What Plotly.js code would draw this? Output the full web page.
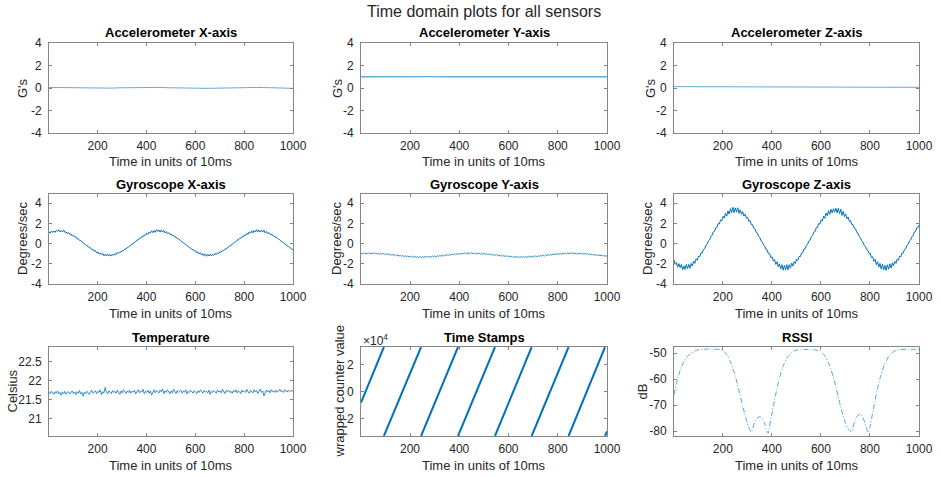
<!DOCTYPE html>
<html><head><meta charset="utf-8">
<script src="https://cdn.plot.ly/plotly-3.0.1.min.js"></script>
<style>html,body{margin:0;padding:0;background:#fff}#chart{width:941px;height:477px}</style>
</head><body><div id="chart"></div><script>
// ---------- DATA ----------
const xTickVals = [200, 400, 600, 800, 1000];
const xTickText = ['200', '400', '600', '800', '1000'];

// sample index for dense series (every 5th sample + last)
const t5 = [];
for (let i = 1; i <= 996; i += 5) t5.push(i);
t5.push(1000);

// accelerometer (read every 50 samples)
const accT = [1,50,100,150,200,250,300,350,400,450,500,550,600,650,700,750,800,850,900,950,1000];
const accX = [0.05,0.03,0.01,-0.01,-0.02,-0.01,0.02,0.05,0.06,0.05,0.02,-0.01,-0.03,-0.03,-0.01,0.02,0.05,0.05,0.03,0.0,-0.03];
const accY = [1.00,1.01,0.99,1.01,1.00,0.99,1.01,1.00,1.00,1.01,0.99,1.00,1.01,0.99,1.00,1.01,1.00,0.99,1.01,1.00,1.00];
const accZ = [0.12,0.12,0.11,0.11,0.10,0.10,0.10,0.09,0.09,0.09,0.09,0.08,0.08,0.08,0.08,0.07,0.07,0.07,0.07,0.06,0.06];

const gyroX = [1.13,1.04,1.25,1.09,1.24,1.10,1.32,1.22,1.36,1.15,
1.29,1.14,1.32,1.11,1.14,0.97,1.10,0.89,0.95,0.75,
0.82,0.65,0.66,0.46,0.47,0.31,0.30,0.15,0.11,-0.05,
-0.09,-0.24,-0.26,-0.42,-0.42,-0.60,-0.57,-0.76,-0.70,-0.92,
-0.84,-1.04,-0.92,-1.11,-0.97,-1.22,-1.06,-1.23,-1.04,-1.22,
-1.07,-1.24,-1.06,-1.18,-0.99,-1.08,-0.89,-0.97,-0.82,-0.86,
-0.69,-0.70,-0.55,-0.54,-0.40,-0.37,-0.23,-0.19,-0.04,0.00,
0.14,0.18,0.34,0.36,0.52,0.52,0.70,0.67,0.86,0.80,
1.02,0.91,1.14,1.03,1.26,1.07,1.27,1.11,1.38,1.19,
1.34,1.13,1.35,1.13,1.29,1.05,1.19,0.98,1.08,0.90,
0.95,0.78,0.80,0.64,0.65,0.49,0.47,0.32,0.28,0.14,
0.10,-0.04,-0.08,-0.23,-0.27,-0.41,-0.43,-0.59,-0.58,-0.75,
-0.71,-0.91,-0.83,-1.03,-0.91,-1.14,-1.00,-1.20,-1.03,-1.26,
-1.08,-1.23,-1.05,-1.23,-1.05,-1.17,-0.98,-1.08,-0.91,-0.97,
-0.81,-0.85,-0.70,-0.70,-0.56,-0.54,-0.40,-0.36,-0.23,-0.19,
-0.05,0.00,0.14,0.19,0.33,0.35,0.51,0.51,0.70,0.66,
0.86,0.79,1.01,0.90,1.15,1.02,1.25,1.06,1.29,1.14,
1.37,1.15,1.33,1.13,1.34,1.14,1.31,1.06,1.20,0.99,
1.09,0.90,0.95,0.79,0.79,0.66,0.64,0.50,0.46,0.33,
0.28,0.15,0.09,-0.04,-0.09,-0.22,-0.27,-0.40,-0.44,-0.57,-0.60];

const gyroY = [-0.95,-1.04,-0.93,-1.03,-0.94,-1.02,-0.91,-1.01,-0.93,-1.03,
-0.92,-1.02,-0.94,-1.04,-0.95,-1.05,-0.96,-1.06,-0.98,-1.08,
-1.00,-1.10,-1.02,-1.12,-1.05,-1.16,-1.08,-1.18,-1.10,-1.21,
-1.13,-1.24,-1.16,-1.26,-1.18,-1.29,-1.21,-1.31,-1.23,-1.33,
-1.24,-1.35,-1.26,-1.37,-1.27,-1.38,-1.28,-1.37,-1.29,-1.39,
-1.28,-1.37,-1.27,-1.36,-1.28,-1.36,-1.25,-1.35,-1.24,-1.33,
-1.22,-1.31,-1.20,-1.28,-1.17,-1.26,-1.15,-1.23,-1.12,-1.20,
-1.09,-1.18,-1.06,-1.15,-1.03,-1.12,-1.00,-1.10,-0.98,-1.08,
-0.96,-1.06,-0.94,-1.05,-0.92,-1.04,-0.91,-1.03,-0.90,-1.02,
-0.91,-1.03,-0.92,-1.04,-0.93,-1.03,-0.94,-1.05,-0.95,-1.06,
-0.97,-1.08,-0.99,-1.10,-1.02,-1.13,-1.04,-1.15,-1.07,-1.18,
-1.10,-1.21,-1.12,-1.24,-1.15,-1.26,-1.18,-1.29,-1.20,-1.31,
-1.22,-1.33,-1.24,-1.35,-1.26,-1.37,-1.27,-1.38,-1.28,-1.39,
-1.28,-1.38,-1.27,-1.37,-1.27,-1.36,-1.26,-1.35,-1.25,-1.34,
-1.23,-1.33,-1.21,-1.31,-1.19,-1.28,-1.16,-1.26,-1.14,-1.23,
-1.11,-1.20,-1.08,-1.18,-1.05,-1.15,-1.02,-1.12,-0.99,-1.10,
-0.97,-1.08,-0.95,-1.07,-0.93,-1.05,-0.92,-1.04,-0.92,-1.03,
-0.91,-1.02,-0.92,-1.02,-0.93,-1.03,-0.94,-1.03,-0.95,-1.04,
-0.96,-1.05,-0.98,-1.07,-1.00,-1.09,-1.03,-1.12,-1.06,-1.14,
-1.09,-1.16,-1.12,-1.19,-1.14,-1.22,-1.17,-1.24,-1.20,-1.27,-1.25];

const gyroZ = [-1.59,-2.07,-1.86,-2.33,-1.99,-2.39,-2.07,-2.61,-2.21,-2.56,
-2.08,-2.49,-2.06,-2.45,-1.97,-2.23,-1.74,-1.96,-1.51,-1.65,
-1.24,-1.30,-0.94,-0.94,-0.57,-0.52,-0.17,-0.08,0.25,0.35,
0.69,0.78,1.14,1.19,1.56,1.57,1.98,1.93,2.35,2.24,
2.70,2.51,2.99,2.71,3.22,2.92,3.45,3.06,3.58,3.06,
3.53,3.10,3.54,2.99,3.34,2.88,3.16,2.73,2.91,2.49,
2.61,2.21,2.27,1.88,1.88,1.51,1.47,1.11,1.05,0.70,
0.60,0.27,0.17,-0.16,-0.25,-0.60,-0.64,-1.01,-0.99,-1.39,
-1.31,-1.74,-1.58,-2.06,-1.80,-2.30,-2.00,-2.50,-2.09,-2.63,
-2.17,-2.60,-2.09,-2.60,-2.08,-2.43,-1.93,-2.22,-1.78,-1.97,
-1.54,-1.66,-1.26,-1.30,-0.94,-0.92,-0.56,-0.51,-0.17,-0.08,
0.26,0.36,0.69,0.78,1.13,1.18,1.57,1.58,1.99,1.92,
2.36,2.23,2.71,2.50,3.02,2.75,3.25,2.88,3.39,3.03,
3.44,3.10,3.49,3.04,3.48,2.95,3.40,2.78,3.19,2.67,
2.93,2.45,2.62,2.20,2.28,1.87,1.88,1.52,1.47,1.11,
1.05,0.70,0.59,0.27,0.16,-0.16,-0.26,-0.59,-0.64,-1.00,
-0.98,-1.39,-1.30,-1.75,-1.57,-2.08,-1.79,-2.33,-1.97,-2.52,
-2.06,-2.60,-2.16,-2.66,-2.10,-2.54,-2.01,-2.42,-1.91,-2.21,
-1.76,-1.97,-1.54,-1.65,-1.25,-1.30,-0.94,-0.93,-0.57,-0.51,
-0.17,-0.07,0.26,0.35,0.69,0.78,1.14,1.19,1.56,1.58,1.85];

const temperature = [21.70,21.66,21.72,21.68,21.64,21.71,21.67,21.73,21.65,21.69,
21.62,21.70,21.66,21.72,21.64,21.69,21.71,21.65,21.68,21.73,
21.66,21.70,21.63,21.71,21.67,21.74,21.65,21.69,21.59,21.70,
21.66,21.72,21.68,21.64,21.71,21.75,21.67,21.70,21.73,21.66,
21.72,21.69,21.76,21.63,21.71,21.68,21.82,21.70,21.65,21.73,
21.70,21.66,21.74,21.69,21.72,21.67,21.75,21.70,21.64,21.73,
21.68,21.76,21.71,21.66,21.73,21.69,21.75,21.67,21.72,21.70,
21.74,21.65,21.71,21.76,21.68,21.73,21.70,21.77,21.66,21.72,
21.69,21.75,21.67,21.73,21.62,21.71,21.76,21.68,21.74,21.70,
21.67,21.75,21.71,21.78,21.66,21.73,21.69,21.76,21.70,21.65,
21.73,21.68,21.77,21.71,21.66,21.74,21.69,21.72,21.75,21.67,
21.73,21.70,21.76,21.65,21.72,21.69,21.75,21.71,21.67,21.74,
21.70,21.66,21.73,21.69,21.76,21.71,21.67,21.74,21.70,21.72,
21.68,21.75,21.64,21.72,21.69,21.74,21.71,21.67,21.75,21.70,
21.73,21.68,21.77,21.70,21.66,21.74,21.71,21.75,21.69,21.72,
21.67,21.74,21.70,21.76,21.68,21.73,21.71,21.66,21.75,21.70,
21.73,21.69,21.77,21.71,21.67,21.74,21.72,21.68,21.76,21.70,
21.74,21.66,21.72,21.78,21.69,21.73,21.60,21.71,21.75,21.70,
21.74,21.68,21.76,21.71,21.73,21.69,21.75,21.70,21.72,21.77,
21.71,21.74,21.69,21.76,21.72,21.70,21.75,21.71,21.73,21.74,21.72];

// wrapped counter: segment end points (null = wrap)
const tsX = [1,94,null,94,245,null,245,395,null,395,545,null,545,694,null,694,844,null,844,992,null,992,1000];
const tsY = [-8200,32767,null,-32768,32767,null,-32768,32767,null,-32768,32767,null,-32768,32767,null,-32768,32767,null,-32768,32767,null,-32768,-29300];

const rssiX = [1,10,20,30,40,50,60,70,80,90,100,120,140,160,180,190,200,210,220,230,240,250,260,270,280,290,300,310,315,320,330,340,350,360,370,380,385,390,400,410,420,430,440,450,460,470,480,490,500,520,540,560,580,590,600,610,620,630,640,650,660,670,680,690,700,710,720,725,730,740,750,760,770,780,790,795,800,810,820,830,840,850,860,870,880,890,900,910,920,940,960,980,1000];
const rssiY = [-66,-62,-58.5,-55.5,-53.5,-52,-50.8,-50,-49.4,-49,-48.7,-48.5,-48.4,-48.4,-48.5,-48.6,-49,-49.8,-51,-53,-55.5,-58.5,-62,-66,-70,-73.5,-77,-79.5,-80.3,-79.5,-76.5,-75,-74.5,-75,-77,-80,-80.8,-78.5,-73.5,-68.5,-64,-60,-56.5,-54,-52,-50.8,-49.8,-49.2,-48.8,-48.6,-48.5,-48.6,-48.8,-49,-49.5,-50.3,-51.5,-53.5,-56,-59,-62.5,-66.5,-70.5,-74,-77,-79,-80,-80.3,-79,-75.5,-74,-73.5,-74.5,-77,-80,-80.6,-78.5,-73.5,-68.5,-64,-60,-56.8,-54.3,-52.3,-50.8,-49.8,-49.2,-48.8,-48.6,-48.5,-48.5,-48.5,-48.5];

const accTicks = [-4,-2,0,2,4], accTickText = ['-4','-2','0','2','4'];
const tempTicks = [21,21.5,22,22.5], tempTickText = ['21','21.5','22','22.5'];
const tsTicks = [-20000,0,20000], tsTickText = ['-2','0','2'];
const rssiTicks = [-80,-70,-60,-50], rssiTickText = ['-80','-70','-60','-50'];

// ---------- LAYOUT ----------
const W = 941, H = 477;
const FONT = 'Liberation Sans, Arial, Helvetica, sans-serif';
const TXT = '#262626', AX = '#868686';
const BLUE = '#0072BD';
const colsPx = [[49,293],[361,607],[674,919]];
const rowsPx = [[43,133],[194,284],[347,436]];

const panels = [
 {title:'Accelerometer X-axis', ylab:"G's", yr:[-4,4], tv:accTicks, tt:accTickText, yoff:27},
 {title:'Accelerometer Y-axis', ylab:"G's", yr:[-4,4], tv:accTicks, tt:accTickText, yoff:24},
 {title:'Accelerometer Z-axis', ylab:"G's", yr:[-4,4], tv:accTicks, tt:accTickText, yoff:24},
 {title:'Gyroscope X-axis', ylab:'Degrees/sec', yr:[-4,4.9], tv:accTicks, tt:accTickText, yoff:26},
 {title:'Gyroscope Y-axis', ylab:'Degrees/sec', yr:[-4,4.9], tv:accTicks, tt:accTickText, yoff:24},
 {title:'Gyroscope Z-axis', ylab:'Degrees/sec', yr:[-4,4.9], tv:accTicks, tt:accTickText, yoff:26},
 {title:'Temperature', ylab:'Celsius', yr:[20.55,22.88], tv:tempTicks, tt:tempTickText, yoff:37},
 {title:'Time Stamps', ylab:'wrapped counter value', yr:[-32768,32767], tv:tsTicks, tt:tsTickText, yoff:22},
 {title:'RSSI', ylab:'dB', yr:[-81.9,-47.6], tv:rssiTicks, tt:rssiTickText, yoff:32}
];

const layout = {
  width: W, height: H, margin:{l:0,r:0,t:0,b:0},
  paper_bgcolor:'#fff', plot_bgcolor:'#fff', showlegend:false,
  font:{family:FONT, color:TXT, size:12},
  annotations: []
};
layout.annotations.push({text:'Time domain plots for all sensors', xref:'paper', yref:'paper',
  x:484/W, y:1-12/H, xanchor:'center', yanchor:'middle', showarrow:false,
  font:{family:FONT, size:16, color:TXT}});

panels.forEach((p, i) => {
  const r = Math.floor(i/3), c = i%3;
  const s = i === 0 ? '' : String(i+1);
  const xd = [colsPx[c][0]/W, colsPx[c][1]/W];
  const yd = [1-rowsPx[r][1]/H, 1-rowsPx[r][0]/H];
  const common = {ticks:'inside', ticklen:3, tickcolor:AX, tickwidth:1, showline:true, linecolor:AX, linewidth:1,
    mirror:'ticks', showgrid:false, zeroline:false, fixedrange:true,
    tickfont:{family:FONT, size:12, color:TXT}};
  layout['xaxis'+s] = Object.assign({}, common, {domain:xd, anchor:'y'+s, range:[1,1000],
    tickmode:'array', tickvals:xTickVals, ticktext:xTickText, ticklabelstandoff:2});
  layout['yaxis'+s] = Object.assign({}, common, {domain:yd, anchor:'x'+s, range:p.yr,
    tickmode:'array', tickvals:p.tv, ticktext:p.tt, ticklabelstandoff:4});
  const cx = (colsPx[c][0]+colsPx[c][1])/2;
  layout.annotations.push({text:'<b>'+p.title+'</b>', xref:'paper', yref:'paper',
    x:cx/W, y:1-(rowsPx[r][0]-10)/H, xanchor:'center', yanchor:'middle', showarrow:false,
    font:{family:FONT, size:13, color:'#000'}});
  layout.annotations.push({text:'Time in units of 10ms', xref:'paper', yref:'paper',
    x:cx/W, y:1-(rowsPx[r][1]+29)/H, xanchor:'center', yanchor:'middle', showarrow:false,
    font:{family:FONT, size:13, color:TXT}});
  layout.annotations.push({text:p.ylab, xref:'paper', yref:'paper', textangle:-90,
    x:(colsPx[c][0]-p.yoff)/W, y:1-((rowsPx[r][0]+rowsPx[r][1])/2)/H, xanchor:'center', yanchor:'middle', showarrow:false,
    font:{family:FONT, size:13, color:TXT}});
});
layout.annotations.push({text:'\u00d710<sup>4</sup>', xref:'paper', yref:'paper',
  x:361/W, y:1-340/H, xanchor:'left', yanchor:'middle', showarrow:false,
  font:{family:FONT, size:12, color:TXT}});

const light = 'rgba(0,114,189,0.6)';
const traces = [
  {x:accT, y:accX, xaxis:'x', yaxis:'y', line:{color:light, width:1}},
  {x:accT, y:accY, xaxis:'x2', yaxis:'y2', line:{color:light, width:1.3}},
  {x:accT, y:accZ, xaxis:'x3', yaxis:'y3', line:{color:light, width:1}},
  {x:t5, y:gyroX, xaxis:'x4', yaxis:'y4', line:{color:BLUE, width:1}},
  {x:t5, y:gyroY, xaxis:'x5', yaxis:'y5', line:{color:BLUE, width:0.8}},
  {x:t5, y:gyroZ, xaxis:'x6', yaxis:'y6', line:{color:BLUE, width:1}},
  {x:t5, y:temperature, xaxis:'x7', yaxis:'y7', line:{color:BLUE, width:0.8}},
  {x:tsX, y:tsY, xaxis:'x8', yaxis:'y8', connectgaps:false, line:{color:BLUE, width:2}},
  {x:rssiX, y:rssiY, xaxis:'x9', yaxis:'y9', line:{color:'rgba(0,114,189,0.65)', width:1, dash:'5px,2px,1px,2px', shape:'spline', smoothing:0.5}}
].map(t => Object.assign({type:'scatter', mode:'lines', hoverinfo:'skip', cliponaxis:true}, t));

Plotly.newPlot('chart', traces, layout, {staticPlot:true, displayModeBar:false});
</script></body></html>
